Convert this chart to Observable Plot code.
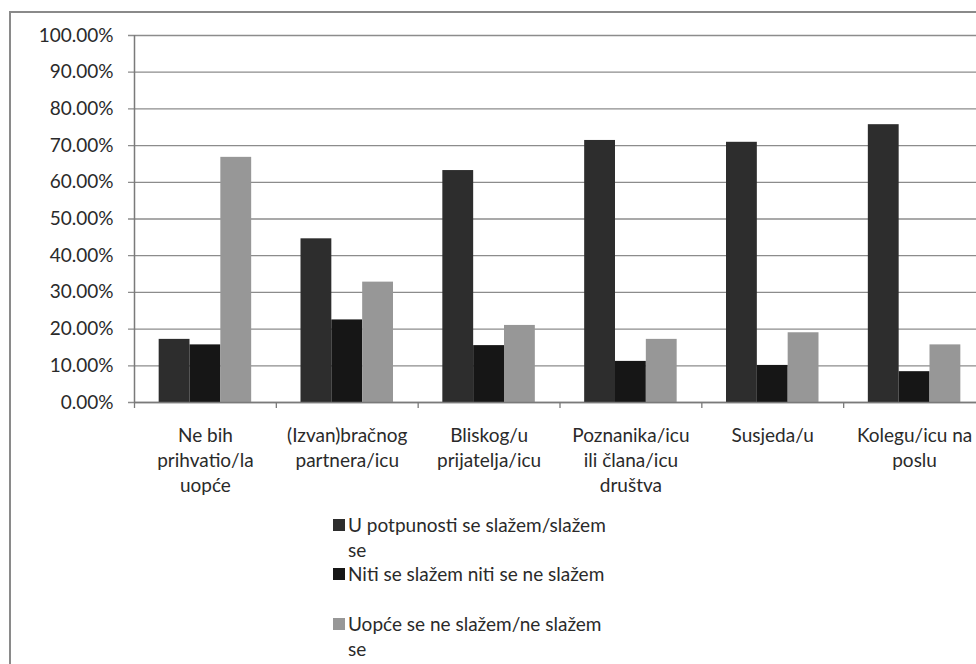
<!DOCTYPE html>
<html>
<head>
<meta charset="utf-8">
<script src="https://cdn.jsdelivr.net/npm/d3@7"></script>
<script src="https://cdn.jsdelivr.net/npm/@observablehq/plot@0.6"></script>
<style>
  html, body { margin: 0; padding: 0; background: #fff; overflow: hidden; }
  #wrap { position: relative; width: 976px; height: 664px; overflow: hidden; }
  #border { position: absolute; left: 9px; top: 11px; width: 1100px; height: 800px; border: 2px solid #8a8a8a; box-sizing: border-box; pointer-events: none; }
  #legend { position: absolute; left: 333px; top: 512px; font-family: Lato, "Open Sans", sans-serif; font-size: 19px; color: #2a2a2a; line-height: 25px; }
  .entry { display: flex; align-items: flex-start; height: 49.3px; }
  .sw { width: 12px; height: 12px; margin-top: 7px; margin-right: 3px; flex: none; }
  .lbl { white-space: pre; }
</style>
</head>
<body>
<div id="wrap">
  <div id="chart"></div>
  <div id="border"></div>
  <div id="legend"></div>
</div>
<script>
const categories = [
  "Ne bih prihvatio/la uopće",
  "(Izvan)bračnog partnera/icu",
  "Bliskog/u prijatelja/icu",
  "Poznanika/icu ili člana/icu društva",
  "Susjeda/u",
  "Kolegu/icu na poslu"
];
const categoryLabels = [
  "Ne bih\nprihvatio/la\nuopće",
  "(Izvan)bračnog\npartnera/icu",
  "Bliskog/u\nprijatelja/icu",
  "Poznanika/icu\nili člana/icu\ndruštva",
  "Susjeda/u",
  "Kolegu/icu na\nposlu"
];
const series = [
  "U potpunosti se slažem/slažem se",
  "Niti se slažem niti se ne slažem",
  "Uopće se ne slažem/ne slažem se"
];
const agree    = [17.2, 44.6, 63.2, 71.4, 70.9, 75.7];
const neutral  = [15.7, 22.5, 15.5, 11.2, 10.1, 8.4];
const disagree = [66.8, 32.8, 21.0, 17.2, 19.0, 15.7];
const yTicks = [0, 10, 20, 30, 40, 50, 60, 70, 80, 90, 100];
const colors = ["#2d2d2d", "#161616", "#979797"];

const valuesBySeries = [agree, neutral, disagree];
const rows = [];
categories.forEach((c, ci) => {
  series.forEach((s, si) => {
    rows.push({category: c, series: s, value: valuesBySeries[si][ci], ci, si});
  });
});

const pad = 0.8;                 // outer padding per group, in bar widths
const bw = 1 / (series.length + 2 * pad);
const bounds = d3.range(categories.length + 1);

const font = "Lato, 'Open Sans', sans-serif";

const chart = Plot.plot({
  width: 976,
  height: 664,
  marginLeft: 134,
  marginRight: 0,
  marginTop: 35,
  marginBottom: 262,
  style: {fontFamily: font, fontSize: "19px", color: "#2a2a2a", background: "transparent", overflow: "hidden"},
  x: {domain: [0, categories.length], range: [134, 985], axis: null},
  y: {domain: [0, 100], axis: null},
  color: {domain: series, range: colors},
  marks: [
    Plot.ruleY(yTicks, {y: d => d, stroke: "#8c8c8c", strokeWidth: 1.3, insetLeft: -6}),
    Plot.rect(rows, {
      x1: d => d.ci + (pad + d.si) * bw,
      x2: d => d.ci + (pad + d.si + 1) * bw,
      y1: 0,
      y2: "value",
      fill: "series"
    }),
    Plot.ruleX([0], {stroke: "#7a7a7a", strokeWidth: 1.5}),
    Plot.ruleY([0], {stroke: "#7a7a7a", strokeWidth: 1.5}),
    Plot.ruleX(bounds, {x: d => d, y1: 0, y2: 0, insetBottom: -6, stroke: "#7a7a7a", strokeWidth: 1.3}),
    Plot.text(yTicks, {
      x: 0, y: d => d, text: d => d.toFixed(2) + "%",
      textAnchor: "end", dx: -21, fontSize: 19, fill: "#2a2a2a"
    }),
    Plot.text(categoryLabels, {
      x: (d, i) => i + 0.5, y: 0, text: d => d,
      lineAnchor: "top", dy: 22, lineHeight: 1.32, fontSize: 19, fill: "#2a2a2a"
    })
  ]
});
document.getElementById("chart").appendChild(chart);

const legend = document.getElementById("legend");
series.forEach((s, i) => {
  const e = document.createElement("div");
  e.className = "entry";
  const sw = document.createElement("div");
  sw.className = "sw";
  sw.style.background = colors[i];
  const t = document.createElement("div");
  t.className = "lbl";
  t.textContent = s.replace(/ se$/, "\nse");
  e.appendChild(sw);
  e.appendChild(t);
  legend.appendChild(e);
});
</script>
</body>
</html>
